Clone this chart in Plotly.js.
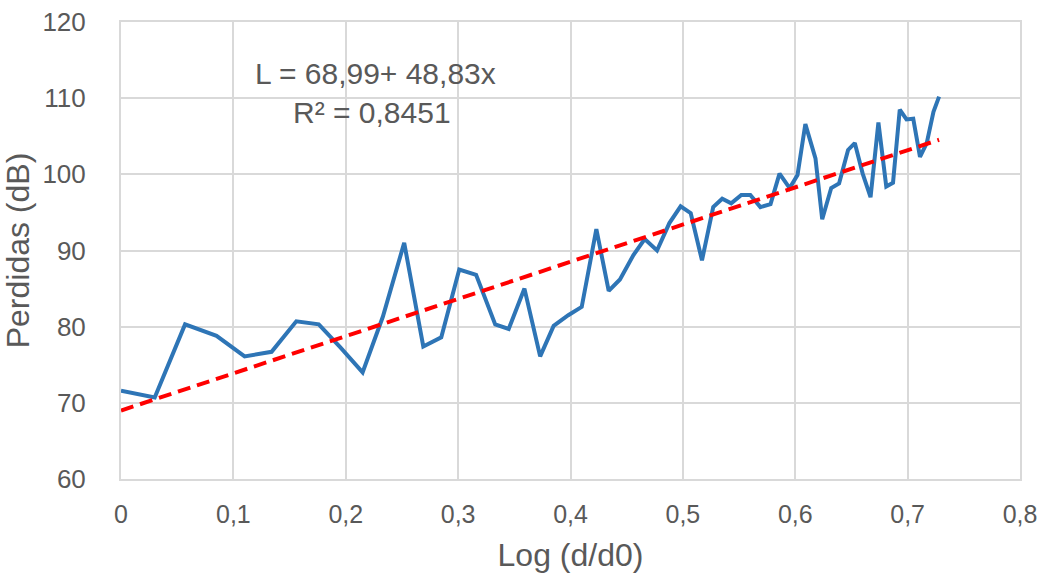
<!DOCTYPE html>
<html><head><meta charset="utf-8">
<script src="https://cdn.plot.ly/plotly-3.0.1.min.js"></script>
<style>html,body{margin:0;padding:0;background:#fff}#chart{width:1043px;height:576px}</style>
</head><body><div id="chart"></div>
<script>
const logDist = [0, 0.030, 0.057, 0.085, 0.110, 0.134, 0.156, 0.176, 0.195, 0.215, 0.233, 0.252, 0.269, 0.285, 0.301, 0.316, 0.333, 0.345, 0.359, 0.373, 0.385, 0.398, 0.410, 0.423, 0.434, 0.444, 0.456, 0.466, 0.477, 0.488, 0.498, 0.507, 0.517, 0.527, 0.535, 0.543, 0.552, 0.560, 0.569, 0.578, 0.586, 0.595, 0.602, 0.609, 0.618, 0.624, 0.632, 0.639, 0.647, 0.653, 0.660, 0.667, 0.674, 0.681, 0.687, 0.693, 0.699, 0.705, 0.711, 0.717, 0.723, 0.728];
const perdidas = [71.6, 70.7, 80.3, 78.8, 76.1, 76.7, 80.7, 80.3, 77.3, 74.0, 81.3, 91.0, 77.4, 78.6, 87.5, 86.8, 80.3, 79.7, 85.0, 76.1, 80.1, 81.5, 82.6, 92.8, 84.7, 86.2, 89.4, 91.5, 90.0, 93.6, 95.8, 94.9, 88.7, 95.7, 96.8, 96.2, 97.3, 97.3, 95.7, 96.1, 100.1, 98.2, 99.9, 106.6, 102.1, 94.1, 98.2, 98.8, 103.2, 104.1, 100.1, 97.0, 106.8, 98.4, 98.9, 108.5, 107.2, 107.3, 102.3, 104.1, 108.2, 110.2];
const fitIntercept = 68.99;
const fitSlope = 48.83;
const xTicks = [0, 0.1, 0.2, 0.3, 0.4, 0.5, 0.6, 0.7, 0.8];
const xTickText = ["0", "0,1", "0,2", "0,3", "0,4", "0,5", "0,6", "0,7", "0,8"];
const yTicks = [60, 70, 80, 90, 100, 110, 120];

const xFit = [logDist[0], logDist[logDist.length - 1]];
const yFit = xFit.map(v => fitIntercept + fitSlope * v);

const txt = '#595959';
const font = 'Liberation Sans, Arial, sans-serif';

Plotly.newPlot('chart', [
  {x: logDist, y: perdidas, type: 'scatter', mode: 'lines', line: {color: '#2e75b6', width: 4}, showlegend: false, hoverinfo: 'skip'},
  {x: xFit, y: yFit, type: 'scatter', mode: 'lines', line: {color: '#ff0000', width: 4, dash: '13px,7px'}, showlegend: false, hoverinfo: 'skip'}
], {
  width: 1043, height: 576,
  margin: {l: 121, r: 23, t: 22, b: 97},
  paper_bgcolor: '#fff', plot_bgcolor: '#fff',
  font: {family: font, color: txt},
  xaxis: {
    range: [0, 0.8], tickvals: xTicks, ticktext: xTickText,
    showgrid: true, gridcolor: '#d9d9d9', gridwidth: 2,
    showline: true, linecolor: '#d9d9d9', linewidth: 2, mirror: true,
    zeroline: false, ticks: '', ticklabelstandoff: 12,
    tickfont: {size: 25, color: txt, family: font},
    title: {text: 'Log (d/d0)', font: {size: 32, color: txt, family: font}, standoff: 17}
  },
  yaxis: {
    range: [60, 120], tickvals: yTicks,
    showgrid: true, gridcolor: '#d9d9d9', gridwidth: 2,
    showline: true, linecolor: '#d9d9d9', linewidth: 2, mirror: true,
    zeroline: false, ticks: '', ticklabelstandoff: 28,
    tickfont: {size: 26, color: txt, family: font},
    title: {text: 'Perdidas (dB)', font: {size: 32, color: txt, family: font}, standoff: 4}
  },
  annotations: [
    {xref: 'paper', yref: 'paper', x: (375 - 121) / 899, y: (479 - 74) / 457, xanchor: 'center', yanchor: 'middle', showarrow: false,
     text: 'L = 68,99+ 48,83x', font: {size: 30, color: txt, family: font}},
    {xref: 'paper', yref: 'paper', x: (372 - 121) / 899, y: (479 - 112) / 457, xanchor: 'center', yanchor: 'middle', showarrow: false,
     text: 'R² = 0,8451', font: {size: 30, color: txt, family: font}}
  ]
}, {staticPlot: true});
</script></body></html>
